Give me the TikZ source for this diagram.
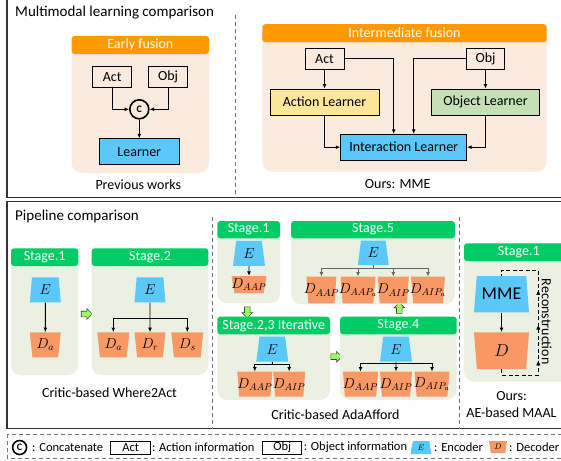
\documentclass[tikz,border=0pt]{standalone}
\usepackage{fontspec}
\setmainfont{Carlito}
\usepackage{tikz}
\usetikzlibrary{arrows.meta,shapes.geometric,shapes.arrows,decorations.markings}

\definecolor{hdorange}{RGB}{255,153,0}
\definecolor{peach}{RGB}{251,234,222}
\definecolor{hdgreen}{RGB}{0,204,102}
\definecolor{palegreen}{RGB}{235,241,226}
\definecolor{encblue}{RGB}{91,200,250}
\definecolor{decorange}{RGB}{248,152,100}
\definecolor{actyellow}{RGB}{255,230,153}
\definecolor{objgreen}{RGB}{197,224,180}
\definecolor{arrgreen}{RGB}{153,255,102}
\newcommand{\Dl}[1]{\makebox[0pt]{$D_{#1}$}}

\begin{document}
\begin{tikzpicture}[x=1pt, y=-1pt,
  every node/.style={font=\fontsize{14}{17}\selectfont},
  frame/.style={draw=black!80, line width=1.2pt},
  divider/.style={draw=black!55, line width=0.8pt, dash pattern=on 4pt off 3pt},
  panel/.style={rounded corners=10pt, inner sep=0pt},
  hdr/.style={rounded corners=3pt, text=white, inner sep=0pt, minimum height=18pt},
  box/.style={draw, line width=0.9pt, inner sep=0pt, minimum height=21pt},
  lg/.style={font=\fontsize{12.5}{14}\selectfont},
  cat/.style={circle, draw, line width=1.6pt, inner sep=0pt,
              font=\fontsize{10}{10}\selectfont\bfseries},
  enc/.style={trapezium, trapezium stretches body, trapezium angle=#1,
              fill=encblue, inner sep=0pt, minimum height=25pt},
  enc/.default=72,
  dec/.style={enc=#1, shape border rotate=180, fill=decorange},
  dec/.default=81,
  aad/.style={dec=#1, font=\fontsize{14}{16}\selectfont},
  aad/.default=81,
  garr/.style={single arrow, draw=black!75, fill=arrgreen, line width=0.6pt,
               inner sep=2.5pt, minimum width=10pt, minimum height=11pt,
               single arrow head extend=2.5pt},
  ar/.style={-{Latex[length=4.5pt,width=4pt]}, line width=0.9pt},
  gar/.style={ar, draw=black!60}]
  \useasboundingbox (0,0) rectangle (561,460);
  \clip (0,0) rectangle (561,460);

  % multimodal learning comparison
  \draw[frame] (7,-2) rectangle (575,197.3);
  \node[anchor=west, font=\fontsize{15}{18}\selectfont] (ttop) at (11.7,12.5)
    {Multimodal learning comparison};
  \draw[divider] (235.7,15) -- (235.7,197.3);

  \node[panel, fill=peach, minimum width=137.3pt, minimum height=137pt] (efb) at (140.35,104.5) {};
  \node[hdr, fill=hdorange, minimum width=137.3pt] (efh) at (140.35,45) {Early fusion};
  \node[box, minimum width=39pt] (act1) at (112.2,76.7) {Act};
  \node[box, minimum width=38.6pt] (obj1) at (168,76.7) {Obj};
  \node[cat, minimum size=19pt] (cat1) at (139.3,109.3) {C};
  \node[box, fill=encblue, minimum width=80pt, minimum height=26pt] (lrn) at (139.3,151.7) {Learner};
  \node (prev) at (138.3,185) {Previous works};
  \draw[ar] (act1.south) |- (cat1.west);
  \draw[ar] (obj1.south) |- (cat1.east);
  \draw[ar] (cat1.south) -- (lrn.north);

  \node[panel, fill=peach, minimum width=284.4pt, minimum height=147.7pt] (imb) at (404.5,97.85) {};
  \node[hdr, fill=hdorange, minimum width=284.4pt] (imh) at (404.5,33.15) {Intermediate fusion};
  \node[box, minimum width=39pt] (act2) at (324.5,58.65) {Act};
  \node[box, minimum width=38.3pt] (obj2) at (485.5,58.65) {Obj};
  \node[box, fill=actyellow, minimum width=109pt, minimum height=26pt] (actl) at (324.5,102) {Action Learner};
  \node[box, fill=objgreen, minimum width=108.3pt, minimum height=26pt] (objl) at (485.5,102) {Object Learner};
  \node[box, fill=encblue, minimum width=126pt, minimum height=25.7pt] (intl) at (403.7,147.15) {Interaction Learner};
  \node (ours1) at (397.7,184) {Ours: MME};
  \draw[ar] (act2.south) -- (actl.north);
  \draw[ar] (obj2.south) -- (objl.north);
  \draw[ar] (act2.east) -| ([xshift=-10pt]intl.north);
  \draw[ar] (obj2.west) -| ([xshift=10pt]intl.north);
  \draw[ar] (actl.south) |- (intl.west);
  \draw[ar] (objl.south) |- (intl.east);

  % pipeline comparison
  \draw[frame] (7,201.7) rectangle (575,428.6);
  \node[anchor=west, font=\fontsize{15}{18}\selectfont] (tbot) at (11.7,216)
    {Pipeline comparison};
  \draw[divider] (212,216.7) -- (212,428.6);
  \draw[divider] (459,216.7) -- (459,428.6);

  \node[panel, fill=palegreen, minimum width=67.3pt, minimum height=126.7pt] (w1b) at (44.65,311.65) {};
  \node[hdr, fill=hdgreen, minimum width=67.3pt, minimum height=17.7pt] (w1h) at (44.65,257.15) {Stage.1};
  \node[enc=77.6, minimum width=31pt] (w1e) at (45.3,289.8) {$E$};
  \node[dec=77.6, minimum width=31pt] (w1d) at (45.3,344.8) {\Dl{a}};
  \draw[ar] (w1e.south) -- (w1d.north);
  \node[garr] (w1to) at (85.3,314) {};

  \node[panel, fill=palegreen, minimum width=116.6pt, minimum height=126.7pt] (w2b) at (150,311.65) {};
  \node[hdr, fill=hdgreen, minimum width=116.6pt, minimum height=17.7pt] (w2h) at (150,257.15) {Stage.2};
  \node[enc=77.6, minimum width=31pt] (w2e) at (150,289.8) {$E$};
  \node[dec=77.6, minimum width=32pt] (w2da) at (113.3,344.8) {\Dl{a}};
  \node[dec=77.6, minimum width=31pt] (w2dr) at (150,344.8) {\Dl{r}};
  \node[dec=77.6, minimum width=32pt] (w2ds) at (187.3,344.8) {\Dl{s}};
  \coordinate (w2br) at (150,318.3);
  \draw[ar] (w2e.south) -- (w2dr.north);
  \draw[ar] (w2br) -| (w2da.north);
  \draw[ar] (w2br) -| (w2ds.north);
  \node (w2cap) at (109.5,392.7) {Critic-based Where2Act};

  \node[panel, fill=palegreen, minimum width=62.7pt, minimum height=82.3pt] (a1b) at (248.65,262.15) {};
  \node[hdr, fill=hdgreen, minimum width=62.7pt, minimum height=17.3pt] (a1h) at (248.65,229.65) {Stage.1};
  \node[enc, minimum width=32pt] (a1e) at (249,253.35) {$E$};
  \node[aad=76.8, minimum width=35pt, minimum height=17pt] (a1d) at (249,284.5) {\Dl{AAP}};
  \draw[ar] (a1e.south) -- (a1d.north);
  \node[garr, shape border rotate=270] (a1to) at (247.3,311) {};

  \node[panel, fill=palegreen, minimum width=112.7pt, minimum height=83.3pt] (a23b) at (273.65,358.35) {};
  \node[hdr, fill=hdgreen, minimum width=112.7pt, minimum height=17.6pt] (a23h) at (273.65,325.5) {Stage.2,3 Iterative};
  \node[enc, minimum width=32pt] (a23e) at (272.3,349.2) {$E$};
  \node[aad, minimum width=35pt] (a23d1) at (254.8,384.2) {\Dl{AAP}};
  \node[aad, minimum width=32pt] (a23d2) at (289.2,384.2) {\Dl{AIP}};
  \coordinate (a23br) at (272.3,364.3);
  \draw[line width=0.9pt] (a23e.south) -- (a23br);
  \draw[ar] (a23br) -| (a23d1.north);
  \draw[ar] (a23br) -| (a23d2.north);
  \node[garr] (a23to) at (335,356.7) {};

  \node[panel, fill=palegreen, minimum width=116.7pt, minimum height=83.3pt] (a4b) at (398.35,358.35) {};
  \node[hdr, fill=hdgreen, minimum width=116.7pt, minimum height=17.6pt] (a4h) at (398.35,325.5) {Stage.4};
  \node[enc, minimum width=32pt] (a4e) at (396,349.2) {$E$};
  \node[aad, minimum width=35pt] (a4d1) at (360.5,384.2) {\Dl{AAP}};
  \node[aad, minimum width=32pt] (a4d2) at (396,384.2) {\Dl{AIP}};
  \node[aad, minimum width=35pt] (a4d3) at (432,384.2) {\Dl{AIP_a}};
  \coordinate (a4br) at (396,363.8);
  \draw[ar] (a4e.south) -- (a4d2.north);
  \draw[ar] (a4br) -| (a4d1.north);
  \draw[ar] (a4br) -| (a4d3.north);
  \node[garr, shape border rotate=90] (a4to) at (399.3,309.3) {};

  \node[panel, fill=palegreen, minimum width=164pt, minimum height=83.3pt] (a5b) at (373,262.65) {};
  \node[hdr, fill=hdgreen, minimum width=164pt, minimum height=17.3pt] (a5h) at (373,229.65) {Stage.5};
  \node[enc, minimum width=31pt, minimum height=24.3pt] (a5e) at (373.3,252.85) {$E$};
  \node[aad, minimum width=30pt, minimum height=26.6pt] (a5d1) at (321.4,290) {\Dl{AAP}};
  \node[aad, minimum width=35pt, minimum height=26.6pt] (a5d2) at (358,290) {\Dl{AAP_a}};
  \node[aad, minimum width=31pt, minimum height=26.6pt] (a5d3) at (393.3,290) {\Dl{AIP}};
  \node[aad, minimum width=34pt, minimum height=26.6pt] (a5d4) at (428,290) {\Dl{AIP_a}};
  \coordinate (a5br) at (373.3,268.3);
  \draw[line width=0.9pt, draw=black!60] (a5e.south) -- (a5br);
  \draw[gar] (a5br) -| (a5d1.north);
  \draw[gar] (a5br) -| (a5d2.north);
  \draw[gar] (a5br) -| (a5d3.north);
  \draw[gar] (a5br) -| (a5d4.north);
  \node (aacap) at (335.5,414.5) {Critic-based AdaAfford};

  \node[panel, fill=palegreen, minimum width=109.6pt, minimum height=138.4pt] (m1b) at (518.8,312.5) {};
  \node[hdr, fill=hdgreen, minimum width=109.6pt, minimum height=17.7pt] (m1h) at (518.8,252.15) {Stage.1};
  \node[enc=76.4, minimum width=55pt, minimum height=36.3pt, font=\fontsize{18}{20}\selectfont]
    (mme) at (501.5,294.15) {\makebox[0pt]{MME}};
  \node[dec=76.4, minimum width=55pt, minimum height=36.7pt, font=\fontsize{18}{20}\selectfont]
    (mdec) at (501.5,350.65) {\makebox[0pt]{$D$}};
  \draw[ar] (mme.south) -- (mdec.north);
  \coordinate (rcb) at (538.3,375);
  \coordinate (rct) at (538.3,270);
  \draw[line width=0.9pt, dash pattern=on 4pt off 2.5pt] (mdec.south) |- (rcb) -- (rct) -| (mme.north);
  \path[postaction={decorate}, decoration={markings,
      mark=at position 0.14 with {\arrow{Latex[length=5pt,width=4pt]}},
      mark=at position 0.48 with {\arrow{Latex[length=5pt,width=4pt]}},
      mark=at position 0.81 with {\arrow{Latex[length=5pt,width=4pt]}}}] (rcb) -- (rct);
  \node[rotate=-90] (rtxt) at (546.7,321.7) {Reconstruction};
  \node[align=center] (mcap) at (511.5,405) {Ours:\\AE-based MAAL};

  % legend
  \draw[divider] (7,434) rectangle (575,458.5);
  \node[cat, minimum size=14pt] (lc) at (19.6,447.5) {C};
  \node[lg, anchor=west] (lcl) at (28.7,447.5) {: Concatenate};
  \node[box, lg, minimum width=40pt, minimum height=13pt] (lact) at (130.7,447.5) {Act};
  \node[lg, anchor=west] (lactl) at (148.5,447.5) {: Action information};
  \node[box, lg, minimum width=39.3pt, minimum height=13pt] (lobj) at (282.2,447.5) {Obj};
  \node[lg, anchor=west] (lobjl) at (300.3,447.5) {: Object information};
  \node[enc=67, minimum width=21pt, minimum height=13pt, font=\fontsize{8}{8}\selectfont] (le) at (421,447.5) {$E$};
  \node[lg, anchor=west] (lel) at (430.7,447.5) {: Encoder};
  \node[dec=71.6, minimum width=18pt, minimum height=12pt, font=\fontsize{8}{8}\selectfont] (ld) at (498,447) {\makebox[0pt]{$D$}};
  \node[lg, anchor=west] (ldl) at (505.7,447.5) {: Decoder};
\end{tikzpicture}
\end{document}
